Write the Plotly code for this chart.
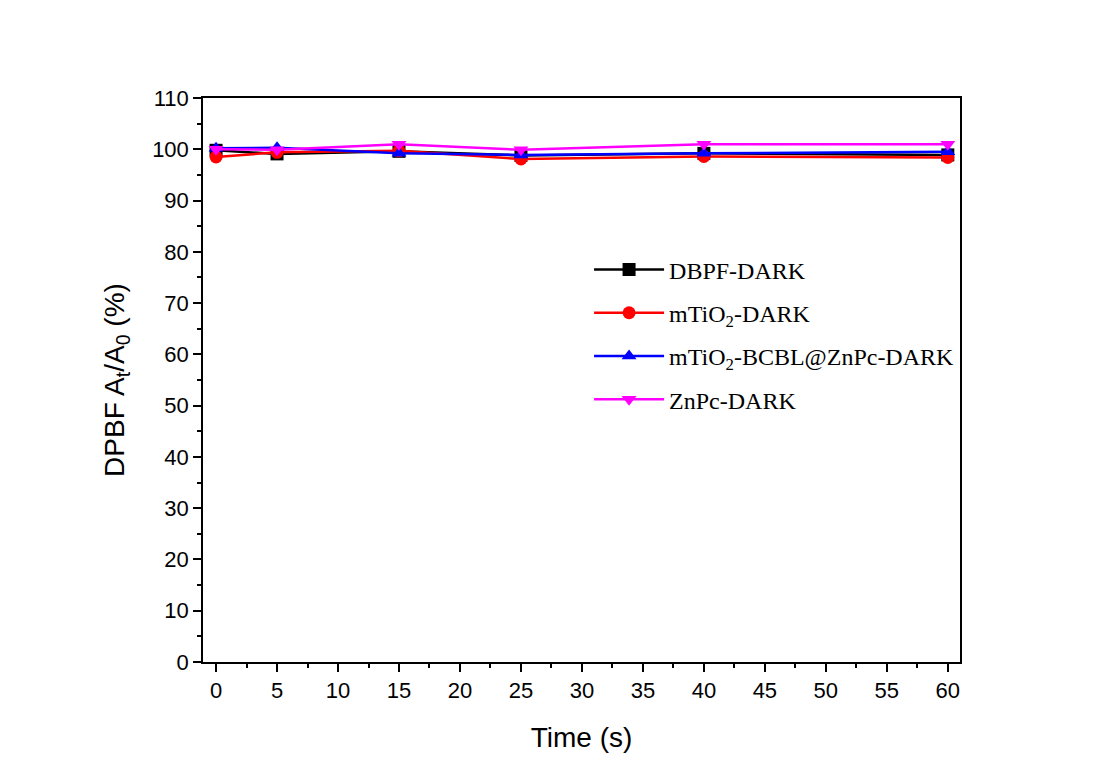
import plotly.graph_objects as go

time_s = [0, 5, 15, 25, 40, 60]
dbpf_dark = [99.8, 99.1, 99.6, 98.8, 99.2, 98.9]
mtio2_dark = [98.5, 99.4, 99.7, 98.1, 98.6, 98.4]
mtio2_bcbl_znpc_dark = [100.2, 100.3, 99.2, 98.9, 99.2, 99.5]
znpc_dark = [100.0, 99.9, 101.0, 99.9, 101.0, 101.0]

names = ["DBPF-DARK", "mTiO<sub>2</sub>-DARK", "mTiO<sub>2</sub>-BCBL@ZnPc-DARK", "ZnPc-DARK"]
series = [dbpf_dark, mtio2_dark, mtio2_bcbl_znpc_dark, znpc_dark]
colors = ["#000000", "#ff0000", "#0000ff", "#ff00ff"]
symbols = ["square", "circle", "triangle-up", "triangle-down"]

fig = go.Figure()
for i, (n, s, c, sym) in enumerate(zip(names, series, colors, symbols)):
    fig.add_trace(go.Scatter(
        x=time_s, y=s, name=n, mode="lines+markers",
        line=dict(color=c, width=2.5),
        marker=dict(symbol=sym, size=13, color=c),
        legendgroup=f"g{i}",
    ))

axis_common = dict(
    showline=True, linecolor="black", linewidth=1.5, mirror=True,
    ticks="outside", ticklen=8, tickwidth=1.5, tickcolor="black",
    showgrid=False, zeroline=False,
    tickfont=dict(family="Liberation Sans, Arial", size=22, color="black"),
)
fig.update_xaxes(
    range=[-1.07, 61.0], tickmode="array", tickvals=list(range(0, 61, 5)),
    minor=dict(ticks="outside", ticklen=4, tickwidth=1.5, tickcolor="black", dtick=2.5, tick0=0),
    title=dict(text="Time (s)", font=dict(family="Liberation Sans, Arial", size=28, color="black"), standoff=25),
    **axis_common,
)
fig.update_yaxes(
    range=[0, 110], tickmode="array", tickvals=list(range(0, 111, 10)),
    minor=dict(ticks="outside", ticklen=4, tickwidth=1.5, tickcolor="black", dtick=5, tick0=0),
    title=dict(text="DPBF A<sub>t</sub>/A<sub>0</sub> (%)", font=dict(family="Liberation Sans, Arial", size=28, color="black"), standoff=19),
    **axis_common,
)
fig.update_layout(
    width=1100, height=783,
    margin=dict(l=195, r=148, t=90, b=129),
    paper_bgcolor="white", plot_bgcolor="white",
    legend=dict(
        x=0.51, y=0.735, xanchor="left", yanchor="top",
        font=dict(family="Liberation Serif, Times New Roman", size=24, color="black"),
        bgcolor="rgba(0,0,0,0)", itemwidth=70, tracegroupgap=9,
    ),
)
fig.write_html("out.html")
